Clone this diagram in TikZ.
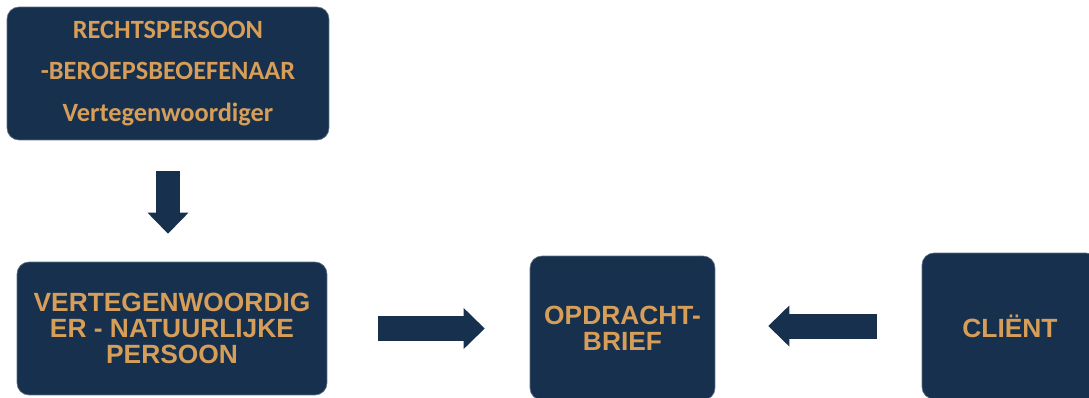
\documentclass[tikz,border=0pt]{standalone}
\usepackage{fontspec}
\setmainfont{Liberation Sans}
\newfontfamily\calibfont{Carlito}
\usetikzlibrary{arrows.meta}

\definecolor{navy}{RGB}{22,48,77}
\definecolor{gold}{RGB}{214,158,88}

\tikzset{
    box/.style={fill=navy, draw=navy!70!white, line width=0.4pt, rounded corners=0.24cm,
        text=gold, align=center, inner sep=0pt,
        font=\fontsize{15}{15}\selectfont\bfseries},
    flow/.style={draw=navy, line width=0.5cm,
        -{Triangle[length=0.42cm, width=0.82cm, line width=0pt]}},
}

\begin{document}
\begin{tikzpicture}[x=0.02cm, y=-0.02cm]

    \useasboundingbox (0,0) rectangle (1089,397);
    \clip (0,0) rectangle (1089,397);

    % boxes
    \node[box, minimum width=6.44cm, minimum height=2.66cm,
          font=\fontsize{15}{23.5}\selectfont\calibfont\bfseries] (rp) at (168,73.5)
        {RECHTSPERSOON\\-BEROEPSBEOEFENAAR\\Vertegenwoordiger};
    \node[box, minimum width=6.2cm, minimum height=2.66cm] (vnp) at (172,328.5)
        {VERTEGENWOORDIG\\ER - NATUURLIJKE\\PERSOON};
    \node[box, minimum width=3.7cm, minimum height=2.88cm] (brief) at (622.5,328)
        {OPDRACHT-\\BRIEF};
    \node[box, minimum width=3.52cm, minimum height=2.92cm] (client) at (1010,326)
        {CLIËNT};

    % arrows
    \draw[flow, shorten <=0.62cm, shorten >=0.56cm] (rp.south) -- (rp.south |- vnp.north);
    \draw[flow, shorten <=1.02cm, shorten >=0.9cm] (vnp.east) -- (vnp.east -| brief.west);
    \draw[flow, shorten <=0.9cm, shorten >=1.06cm] (client.west) -- (client.west -| brief.east);

\end{tikzpicture}
\end{document}
